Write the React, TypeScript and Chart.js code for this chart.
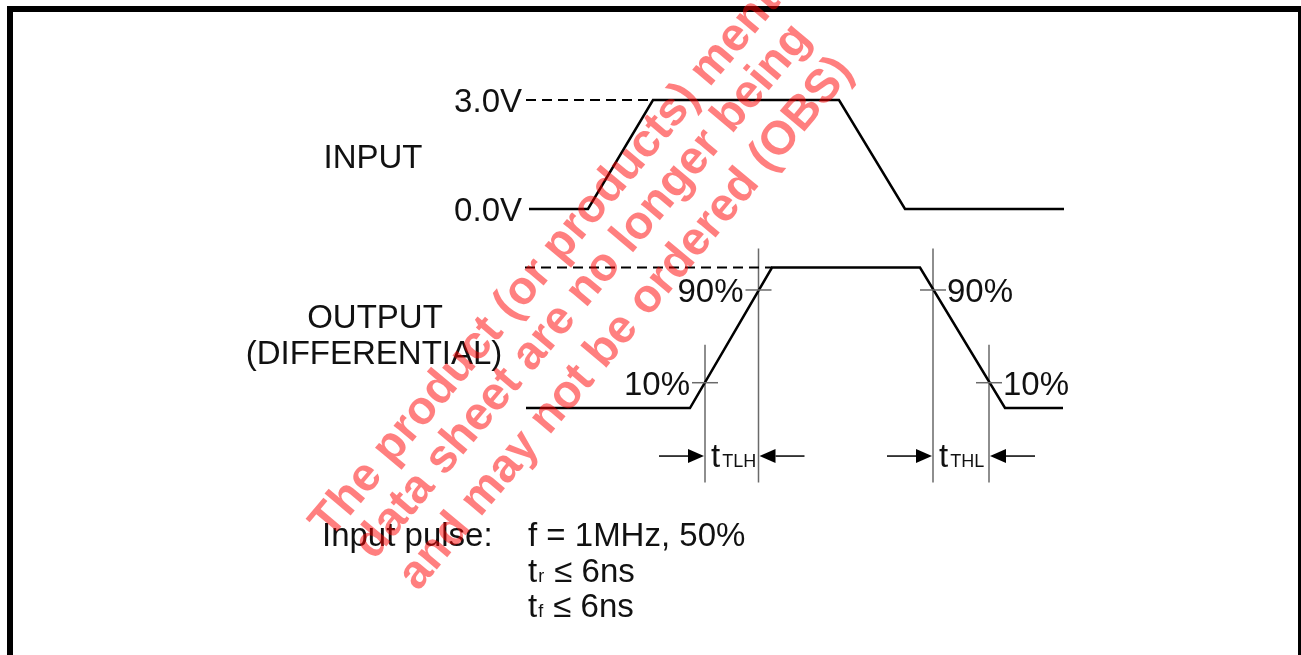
import React, { useEffect, useRef } from 'react';
import { Chart, registerables } from 'chart.js';

Chart.register(...registerables);

// ---- Waveform data (time in ns, input in volts, output as normalized level) ----
const inputTimes = [-5.9, 0, 6.5, 25.1, 31.7, 47.6];
const inputVolts = [0, 0, 3, 3, 0, 0];
const outputTimes = [-6.2, 10.2, 18.4, 33.2, 41.7, 47.5];
const outputLevels = [0, 0, 1, 1, 0, 0];
const inputRefTimes = [-6.2, 6.5];
const inputRefVolts = [3, 3];
const outputRefTimes = [-6.3, 18.4];
const outputRefLevels = [1, 1];

// ---- Measurement markers ----
const measureTimes = [11.7, 17.05, 34.5, 40.1];
const measureLevels = [0.18, 0.84, 0.84, 0.18];
const measureTopLevels = [0.45, 1.135, 1.135, 0.45];
const measureBottomLevel = -0.53;
const measureLabels = ['10%', '90%', '90%', '10%'];
const arrowLevel = -0.342;
const intervalNames = ['TLH', 'THL'];

// ---- Labels ----
const voltLabels = ['3.0V', '0.0V'];
const voltLabelValues = [3, 0];
const pulseTitle = 'Input pulse:';
const pulseSpec = 'f = 1MHz, 50%';
const edgeSubs = ['r', 'f'];
const edgeSpec = ' 6ns';
const watermarkLines = [
  'The product (or products) mentioned in this',
  'data sheet are no longer being',
  'and may not be ordered (OBS)',
];

const FONT = '"Liberation Sans", Arial, Helvetica, sans-serif';

const toXY = (xs: number[], ys: number[]) => xs.map((x, i) => ({ x, y: ys[i] }));

export default function App() {
  const ref = useRef<HTMLCanvasElement>(null);

  useEffect(() => {
    document.body.style.margin = '0';
    const canvas = ref.current!;

    const grayDatasets: any[] = [];
    measureTimes.forEach((t, i) => {
      grayDatasets.push({
        data: toXY([t, t], [measureTopLevels[i], measureBottomLevel]),
        yAxisID: 'yOut',
        borderColor: '#6a6a6a',
        borderWidth: 1.5,
        pointRadius: 0,
        showLine: true,
      });
    });

    const txt = (ctx: CanvasRenderingContext2D, s: string, x: number, y: number, size: number, align: CanvasTextAlign = 'left') => {
      ctx.font = `${size}px ${FONT}`;
      ctx.textAlign = align;
      ctx.textBaseline = 'alphabetic';
      ctx.fillText(s, x, y);
      return ctx.measureText(s).width;
    };

    const arrow = (ctx: CanvasRenderingContext2D, tipX: number, y: number, dir: number) => {
      const len = 45, head = 16, half = 7;
      ctx.beginPath();
      ctx.moveTo(tipX - dir * len, y);
      ctx.lineTo(tipX - dir * head, y);
      ctx.stroke();
      ctx.beginPath();
      ctx.moveTo(tipX, y);
      ctx.lineTo(tipX - dir * head, y - half);
      ctx.lineTo(tipX - dir * head, y + half);
      ctx.closePath();
      ctx.fill();
    };

    const diagramPlugin = {
      id: 'diagram',
      beforeDraw(chart: any) {
        const ctx = chart.ctx;
        ctx.save();
        ctx.fillStyle = '#fff';
        ctx.fillRect(0, 0, chart.width, chart.height);
        ctx.restore();
      },
      afterDatasetsDraw(chart: any) {
        const ctx: CanvasRenderingContext2D = chart.ctx;
        const xs = chart.scales.x, yi = chart.scales.yIn, yo = chart.scales.yOut;
        ctx.save();
        // tick marks at crossing levels
        ctx.strokeStyle = '#6a6a6a';
        ctx.lineWidth = 1.5;
        measureTimes.forEach((t, i) => {
          const X = xs.getPixelForValue(t);
          const Y = yo.getPixelForValue(measureLevels[i]);
          ctx.beginPath();
          ctx.moveTo(X - 13, Y);
          ctx.lineTo(X + 13, Y);
          ctx.stroke();
        });
        // arrows
        ctx.strokeStyle = '#000';
        ctx.fillStyle = '#000';
        ctx.lineWidth = 1.5;
        const ay = yo.getPixelForValue(arrowLevel);
        for (let k = 0; k < 2; k++) {
          const xa = xs.getPixelForValue(measureTimes[2 * k]);
          const xb = xs.getPixelForValue(measureTimes[2 * k + 1]);
          const l = Math.min(xa, xb), r = Math.max(xa, xb);
          arrow(ctx, l - 1, ay, 1);
          arrow(ctx, r + 1, ay, -1);
          ctx.fillStyle = '#111';
          const w = txt(ctx, 't', l + 6, ay + 11, 33);
          txt(ctx, intervalNames[k], l + 6 + w + 2, ay + 11, 18);
          ctx.fillStyle = '#000';
        }
        // texts
        ctx.fillStyle = '#111';
        const dashStart = xs.getPixelForValue(inputRefTimes[0]);
        voltLabels.forEach((s, i) => {
          txt(ctx, s, dashStart - 4, yi.getPixelForValue(voltLabelValues[i]) + 12, 33, 'right');
        });
        txt(ctx, 'INPUT', 373, 168, 33, 'center');
        txt(ctx, 'OUTPUT', 375, 328, 33, 'center');
        txt(ctx, '(DIFFERENTIAL)', 374, 364, 33, 'center');
        measureTimes.forEach((t, i) => {
          const X = xs.getPixelForValue(t);
          const Y = yo.getPixelForValue(measureLevels[i]) + 12;
          if (i < 2) txt(ctx, measureLabels[i], X - 15, Y, 33, 'right');
          else txt(ctx, measureLabels[i], X + 14, Y, 33, 'left');
        });
        txt(ctx, pulseTitle, 322, 546, 33);
        txt(ctx, pulseSpec, 528, 546, 33);
        edgeSubs.forEach((sub, i) => {
          const by = 582 + i * 35;
          let x = 528;
          x += txt(ctx, 't', x, by, 33);
          x += txt(ctx, sub, x + 1, by, 18) + 2;
          x += txt(ctx, ' \u2264', x, by, 33);
          txt(ctx, edgeSpec, x, by, 33);
        });
        ctx.restore();
      },
      afterDraw(chart: any) {
        const ctx: CanvasRenderingContext2D = chart.ctx;
        ctx.save();
        // frame
        ctx.fillStyle = '#000';
        ctx.fillRect(7, 6, 1294, 6);
        ctx.fillRect(7, 6, 6, 649);
        ctx.fillRect(1298, 6, 3, 649);
        // watermark
        const starts = [[330, 540], [374, 561], [418, 592]];
        ctx.fillStyle = 'rgba(255, 0, 0, 0.5)';
        ctx.font = `bold 47px ${FONT}`;
        ctx.textAlign = 'left';
        ctx.textBaseline = 'alphabetic';
        watermarkLines.forEach((line, i) => {
          ctx.save();
          ctx.translate(starts[i][0], starts[i][1]);
          ctx.rotate(-50 * Math.PI / 180);
          ctx.fillText(line, 0, 0);
          ctx.restore();
        });
        ctx.restore();
      },
    };

    const chart = new Chart(canvas, {
      type: 'scatter',
      data: {
        datasets: [
          {
            data: toXY(inputTimes, inputVolts),
            yAxisID: 'yIn',
            borderColor: '#000',
            borderWidth: 2.5,
            pointRadius: 0,
            showLine: true,
            borderJoinStyle: 'miter',
          },
          {
            data: toXY(outputTimes, outputLevels),
            yAxisID: 'yOut',
            borderColor: '#000',
            borderWidth: 2.5,
            pointRadius: 0,
            showLine: true,
            borderJoinStyle: 'miter',
          },
          {
            data: toXY(inputRefTimes, inputRefVolts),
            yAxisID: 'yIn',
            borderColor: '#000',
            borderWidth: 2,
            borderDash: [10, 6],
            pointRadius: 0,
            showLine: true,
          },
          {
            data: toXY(outputRefTimes, outputRefLevels),
            yAxisID: 'yOut',
            borderColor: '#000',
            borderWidth: 2,
            borderDash: [10, 6],
            pointRadius: 0,
            showLine: true,
          },
          ...grayDatasets,
        ],
      } as any,
      options: {
        responsive: false,
        animation: false,
        layout: { padding: 0 },
        plugins: { legend: { display: false }, tooltip: { enabled: false } },
        events: [],
        scales: {
          x: { type: 'linear', min: -58.8, max: 71.3, display: false },
          yIn: { type: 'linear', axis: 'y', min: -12.276, max: 5.752, display: false },
          yOut: { type: 'linear', axis: 'y', min: -1.758, max: 2.904, display: false },
        },
      } as any,
      plugins: [diagramPlugin],
    });
    return () => chart.destroy();
  }, []);

  return (
    <div style={{ width: 1301, height: 655, position: 'relative', background: '#fff' }}>
      <canvas ref={ref} width={1301} height={655} style={{ display: 'block' }} />
    </div>
  );
}
